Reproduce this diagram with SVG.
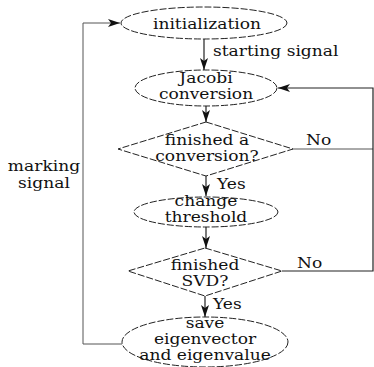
<svg xmlns="http://www.w3.org/2000/svg" width="374" height="367" viewBox="0 0 374 367">
<style>
.n{fill:#fff;stroke:#222;stroke-width:1;stroke-dasharray:7 2}
.t{font-family:"DejaVu Serif","Liberation Serif",serif;font-size:14px;fill:#111;text-anchor:middle}
.l{font-family:"DejaVu Serif","Liberation Serif",serif;font-size:14px;fill:#111}
.c{fill:none;stroke:#222;stroke-width:1.2}
.g{fill:none;stroke:#555;stroke-width:1}
</style>
<defs>
<marker id="a" viewBox="0 0 12 8" refX="12" refY="4" markerWidth="12" markerHeight="8" markerUnits="userSpaceOnUse" orient="auto">
<path d="M0,0 L12,4 L0,8 L3,4 Z" fill="#111"/>
</marker>
</defs>
<g id="connectors">
<line class="c" x1="204" y1="39" x2="204" y2="70" marker-end="url(#a)"/>
<line class="c" x1="206" y1="106" x2="206" y2="122" marker-end="url(#a)"/>
<line class="c" x1="206" y1="176" x2="206" y2="196" marker-end="url(#a)"/>
<line class="c" x1="206" y1="227" x2="206" y2="248" marker-end="url(#a)"/>
<line class="c" x1="205" y1="296" x2="205" y2="317" marker-end="url(#a)"/>
<polyline class="g" points="293,149 373,149" stroke="#aaa"/>
<polyline class="c" points="282,271 373,271 373,88 278,88" marker-end="url(#a)"/>
<polyline class="g" points="122,344 83,344 83,23 120,23" marker-end="url(#a)"/>
<text class="l" transform="translate(213,56) scale(1.22,1)">starting signal</text>
<text class="l" transform="translate(306,145) scale(1.22,1)">No</text>
<text class="l" transform="translate(217,189) scale(1.22,1)">Yes</text>
<text class="l" transform="translate(297,268) scale(1.22,1)">No</text>
<text class="l" transform="translate(213,309) scale(1.22,1)">Yes</text>
<text class="t" transform="translate(44,171) scale(1.22,1)">marking</text>
<text class="t" transform="translate(44,188) scale(1.22,1)">signal</text>
</g>
<g id="init">
<ellipse class="n" cx="204" cy="23" rx="83" ry="16"/>
<text class="t" transform="translate(207,29) scale(1.22,1)">initialization</text>
</g>
<g id="jacobi">
<ellipse class="n" cx="206" cy="88" rx="71" ry="18"/>
<text class="t" transform="translate(206,83) scale(1.22,1)">Jacobi</text>
<text class="t" transform="translate(206,99) scale(1.22,1)">conversion</text>
</g>
<g id="dec1">
<polygon class="n" points="206,122 293,149 206,176 118,149"/>
<text class="t" transform="translate(207,145) scale(1.22,1)">finished a</text>
<text class="t" transform="translate(207,161) scale(1.22,1)">conversion?</text>
</g>
<g id="threshold">
<ellipse class="n" cx="206" cy="212" rx="72" ry="15"/>
<text class="t" transform="translate(206,206) scale(1.22,1)">change</text>
<text class="t" transform="translate(206,222) scale(1.22,1)">threshold</text>
</g>
<g id="dec2">
<polygon class="n" points="205,248 282,271 205,296 128,271"/>
<text class="t" transform="translate(205,270) scale(1.22,1)">finished</text>
<text class="t" transform="translate(205,286) scale(1.22,1)">SVD?</text>
</g>
<g id="save">
<ellipse class="n" cx="205" cy="342" rx="83" ry="25"/>
<text class="t" transform="translate(205,328) scale(1.22,1)">save</text>
<text class="t" transform="translate(205,344) scale(1.22,1)">eigenvector</text>
<text class="t" transform="translate(205,360) scale(1.22,1)">and eigenvalue</text>
</g>
</svg>
